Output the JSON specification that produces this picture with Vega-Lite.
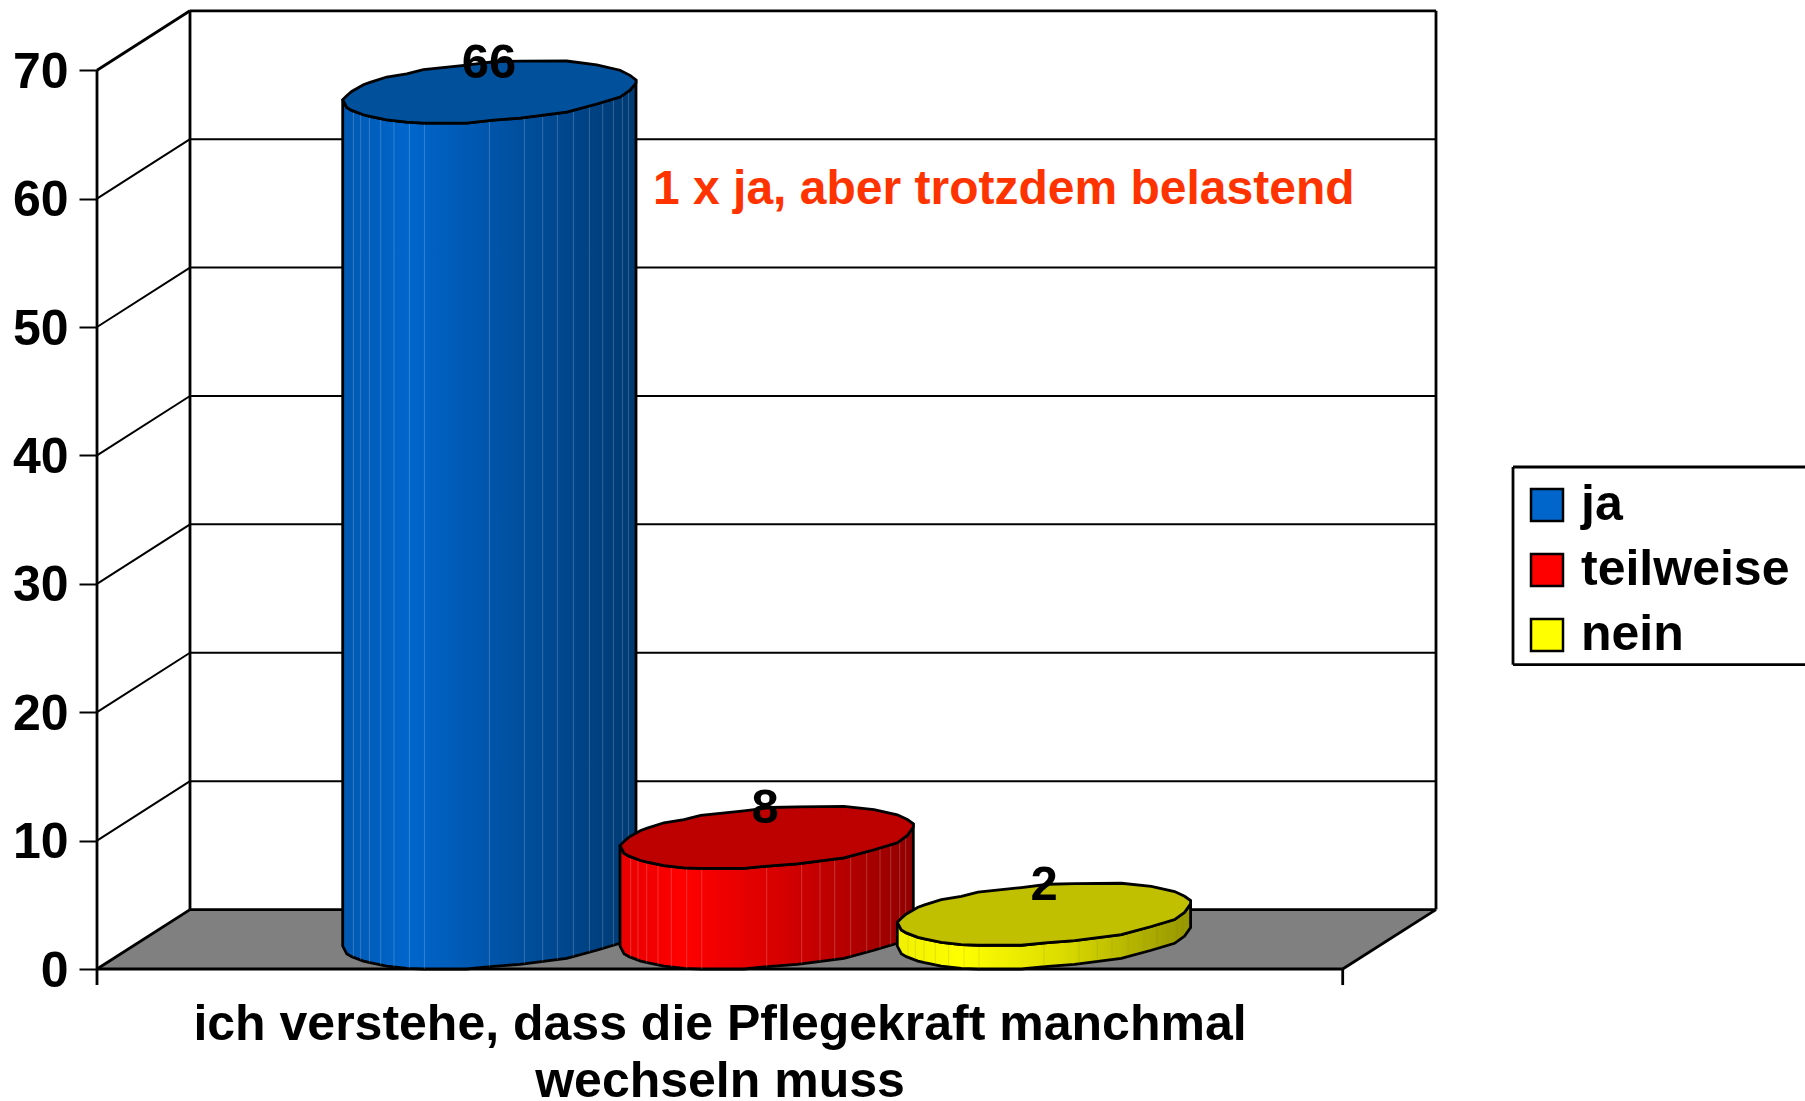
{"$schema":"https://vega.github.io/schema/vega-lite/v6.json","width":1805,"height":1101,"padding":0,"autosize":{"type":"none"},"background":"white","config":{"view":{"stroke":null}},
"datasets":{
"floor":[{"x":97,"y":0,"y2":0},{"x":190,"y":4.63,"y2":0},{"x":1342.7,"y":4.63,"y2":0},{"x":1436,"y":4.63,"y2":4.63}],
"grid":[{"x":190,"x2":1436,"y":14.63,"y2":14.63},{"x":190,"x2":1436,"y":24.63,"y2":24.63},{"x":190,"x2":1436,"y":34.63,"y2":34.63},{"x":190,"x2":1436,"y":44.63,"y2":44.63},{"x":190,"x2":1436,"y":54.63,"y2":54.63},{"x":190,"x2":1436,"y":64.63,"y2":64.63},
{"x":97,"x2":190,"y":10,"y2":14.63},{"x":97,"x2":190,"y":20,"y2":24.63},{"x":97,"x2":190,"y":30,"y2":34.63},{"x":97,"x2":190,"y":40,"y2":44.63},{"x":97,"x2":190,"y":50,"y2":54.63},{"x":97,"x2":190,"y":60,"y2":64.63}],
"frame":[{"x":190,"x2":1436,"y":74.63,"y2":74.63},{"x":97,"x2":190,"y":70,"y2":74.63},{"x":97,"x2":97,"y":-1.25,"y2":70},{"x":190,"x2":190,"y":4.63,"y2":74.63},{"x":1436,"x2":1436,"y":4.63,"y2":74.63},{"x":97,"x2":1342.7,"y":0,"y2":0},{"x":190,"x2":1436,"y":4.63,"y2":4.63},{"x":97,"x2":190,"y":0,"y2":4.63},{"x":1342.7,"x2":1436,"y":0,"y2":4.63},{"x":1342.7,"x2":1342.7,"y":-1.25,"y2":0},
{"x":1513,"x2":1805,"y":39.1,"y2":39.1},{"x":1513,"x2":1805,"y":23.7,"y2":23.7},{"x":1513,"x2":1513,"y":23.7,"y2":39.1}],
"blue":[
{"x":342.7,"hi":67.7,"lo":67.7,"bottom":1.79},{"x":346.7,"hi":68.01,"lo":67.1,"bottom":1.19},{"x":351.7,"hi":68.35,"lo":66.87,"bottom":0.96},{"x":363.4,"hi":68.87,"lo":66.53,"bottom":0.62},{"x":370,"hi":69.05,"lo":66.4,"bottom":0.49},{"x":386.7,"hi":69.47,"lo":66.14,"bottom":0.23},{"x":406.7,"hi":69.72,"lo":65.96,"bottom":0.05},{"x":423.4,"hi":70.04,"lo":65.88,"bottom":0},{"x":466.7,"hi":70.4,"lo":65.88,"bottom":0},{"x":493.4,"hi":70.66,"lo":66.12,"bottom":0.21},{"x":520,"hi":70.71,"lo":66.27,"bottom":0.36},{"x":566.7,"hi":70.72,"lo":66.74,"bottom":0.83},{"x":596.7,"hi":70.42,"lo":67.37,"bottom":1.46},{"x":620,"hi":70.0,"lo":67.91,"bottom":2},{"x":630,"hi":69.6,"lo":68.44,"bottom":2.57},{"x":636,"hi":69.25,"lo":69.0,"bottom":3.22}],
"red":[
{"x":620,"hi":9.62,"lo":9.62,"bottom":1.79},{"x":624,"hi":9.93,"lo":9.02,"bottom":1.19},{"x":629,"hi":10.27,"lo":8.79,"bottom":0.96},{"x":640.7,"hi":10.79,"lo":8.45,"bottom":0.62},{"x":647.3,"hi":10.97,"lo":8.32,"bottom":0.49},{"x":664,"hi":11.39,"lo":8.06,"bottom":0.23},{"x":684,"hi":11.64,"lo":7.88,"bottom":0.05},{"x":700.7,"hi":11.96,"lo":7.83,"bottom":0},{"x":744,"hi":12.32,"lo":7.83,"bottom":0},{"x":770.7,"hi":12.58,"lo":8.04,"bottom":0.21},{"x":797.3,"hi":12.63,"lo":8.19,"bottom":0.36},{"x":844,"hi":12.66,"lo":8.66,"bottom":0.83},{"x":874,"hi":12.42,"lo":9.29,"bottom":1.46},{"x":897.3,"hi":12.01,"lo":9.83,"bottom":2},{"x":907.3,"hi":11.64,"lo":10.4,"bottom":2.57},{"x":913.3,"hi":11.31,"lo":11.05,"bottom":3.22}],
"yellow":[
{"x":897.3,"hi":3.64,"lo":3.64,"bottom":1.79},{"x":901.3,"hi":3.95,"lo":3.04,"bottom":1.19},{"x":906.3,"hi":4.29,"lo":2.81,"bottom":0.96},{"x":918,"hi":4.81,"lo":2.47,"bottom":0.62},{"x":924.6,"hi":4.99,"lo":2.34,"bottom":0.49},{"x":941.3,"hi":5.41,"lo":2.08,"bottom":0.23},{"x":961.3,"hi":5.66,"lo":1.9,"bottom":0.05},{"x":978,"hi":5.98,"lo":1.85,"bottom":0},{"x":1021.3,"hi":6.34,"lo":1.85,"bottom":0},{"x":1048,"hi":6.6,"lo":2.06,"bottom":0.21},{"x":1074.6,"hi":6.65,"lo":2.21,"bottom":0.36},{"x":1121.3,"hi":6.68,"lo":2.68,"bottom":0.83},{"x":1151.3,"hi":6.44,"lo":3.31,"bottom":1.46},{"x":1174.6,"hi":6.03,"lo":3.85,"bottom":2},{"x":1184.6,"hi":5.66,"lo":4.42,"bottom":2.57},{"x":1190.6,"hi":5.33,"lo":5.07,"bottom":3.22}],
"blueFacets":[{"x":353.4,"y":66.84,"y2":0.93},{"x":360.7,"y":66.61,"y2":0.7},{"x":369.4,"y":66.41,"y2":0.5},{"x":380.7,"y":66.23,"y2":0.32},{"x":394,"y":66.08,"y2":0.17},{"x":409.4,"y":65.95,"y2":0.04},{"x":424.4,"y":65.91,"y2":0},{"x":489.4,"y":66.09,"y2":0.18},{"x":524.4,"y":66.31,"y2":0.4},{"x":542.7,"y":66.5,"y2":0.59},{"x":557.4,"y":66.65,"y2":0.74},{"x":573.4,"y":66.88,"y2":0.97},{"x":589.4,"y":67.22,"y2":1.31},{"x":602.7,"y":67.51,"y2":1.6},{"x":613.4,"y":67.76,"y2":1.85},{"x":622.4,"y":68.05,"y2":2.14},{"x":628.4,"y":68.39,"y2":2.48}],
"redFacets":[{"x":630.7,"y":8.89,"y2":0.93},{"x":638,"y":8.66,"y2":0.7},{"x":646.7,"y":8.46,"y2":0.5},{"x":658,"y":8.28,"y2":0.32},{"x":671.3,"y":8.13,"y2":0.17},{"x":686.7,"y":8.0,"y2":0.04},{"x":701.7,"y":7.96,"y2":0},{"x":766.7,"y":8.14,"y2":0.18},{"x":801.7,"y":8.36,"y2":0.4},{"x":820,"y":8.55,"y2":0.59},{"x":834.7,"y":8.7,"y2":0.74},{"x":850.7,"y":8.93,"y2":0.97},{"x":866.7,"y":9.27,"y2":1.31},{"x":880,"y":9.56,"y2":1.6},{"x":890.7,"y":9.81,"y2":1.85},{"x":899.7,"y":10.1,"y2":2.14},{"x":905.7,"y":10.44,"y2":2.48}],
"yellowFacets":[{"x":908,"y":2.96,"y2":0.93},{"x":915.3,"y":2.73,"y2":0.7},{"x":924,"y":2.53,"y2":0.5},{"x":935.3,"y":2.35,"y2":0.32},{"x":948.6,"y":2.2,"y2":0.17},{"x":964,"y":2.07,"y2":0.04},{"x":979,"y":2.03,"y2":0},{"x":1044,"y":2.21,"y2":0.18},{"x":1079,"y":2.43,"y2":0.4},{"x":1097.3,"y":2.62,"y2":0.59},{"x":1112,"y":2.77,"y2":0.74},{"x":1128,"y":3.0,"y2":0.97},{"x":1144,"y":3.34,"y2":1.31},{"x":1157.3,"y":3.63,"y2":1.6},{"x":1168,"y":3.88,"y2":1.85},{"x":1177,"y":4.17,"y2":2.14},{"x":1183,"y":4.51,"y2":2.48}],
"labels":[{"x":489,"y":70.55,"label":"66"},{"x":765,"y":12.52,"label":"8"},{"x":1044,"y":6.53,"label":"2"}],
"xlabel":[{"x":720,"y":-5.53,"label":"ich verstehe, dass die Pflegekraft manchmal"},{"x":720,"y":-9.95,"label":"wechseln muss"}],
"note":[{"x":653,"y":60.65,"label":"1 x ja, aber trotzdem belastend"}],
"answers":[{"x":1530,"y":30,"answer":"ja","count":66},{"x":1530,"y":30,"answer":"teilweise","count":8},{"x":1530,"y":30,"answer":"nein","count":2}]
},
"layer":[
{"data":{"name":"floor"},"mark":{"type":"area","fill":"#808080"},"encoding":{"x":{"field":"x","type":"quantitative","scale":{"domain":[0,1805],"nice":false,"zero":false},"axis":null},"y":{"field":"y","type":"quantitative","scale":{"domain":[-10.28,75.47],"nice":false,"zero":false},"axis":{"values":[0,10,20,30,40,50,60,70],"offset":-97,"domain":false,"grid":false,"title":null,"tickSize":18,"tickWidth":2,"tickColor":"black","labelFont":"Liberation Sans","labelFontSize":50,"labelFontWeight":"bold","labelColor":"black","labelPadding":11,"labelOffset":2}},"y2":{"field":"y2"}}},
{"data":{"name":"grid"},"mark":{"type":"rule","stroke":"black","strokeWidth":2},"encoding":{"x":{"field":"x","type":"quantitative","scale":{"domain":[0,1805],"nice":false,"zero":false},"axis":null},"x2":{"field":"x2"},"y":{"field":"y","type":"quantitative","scale":{"domain":[-10.28,75.47],"nice":false,"zero":false}},"y2":{"field":"y2"}}},
{"data":{"name":"frame"},"mark":{"type":"rule","stroke":"black","strokeWidth":2.8},"encoding":{"x":{"field":"x","type":"quantitative","scale":{"domain":[0,1805],"nice":false,"zero":false},"axis":null},"x2":{"field":"x2"},"y":{"field":"y","type":"quantitative","scale":{"domain":[-10.28,75.47],"nice":false,"zero":false}},"y2":{"field":"y2"}}},
{"data":{"name":"answers"},"mark":{"type":"square","size":0,"opacity":0},"encoding":{"x":{"field":"x","type":"quantitative","scale":{"domain":[0,1805],"nice":false,"zero":false},"axis":null},"y":{"field":"y","type":"quantitative","scale":{"domain":[-10.28,75.47],"nice":false,"zero":false}},"color":{"field":"answer","type":"nominal","scale":{"domain":["ja","teilweise","nein"],"range":["#0066CC","#FF0000","#FFFF00"]},"legend":{"orient":"none","legendX":1522,"legendY":480,"title":null,"symbolType":"square","symbolSize":1024,"symbolOpacity":1,"symbolStrokeColor":"black","symbolStrokeWidth":2.5,"labelFont":"Liberation Sans","labelFontSize":50,"labelFontWeight":"bold","labelColor":"black","labelOffset":9,"labelLimit":0,"rowPadding":15,"padding":0}}}},
{"data":{"name":"blue"},"mark":{"type":"area","stroke":"black","strokeWidth":2.8,"fill":{"gradient":"linear","x1":0,"x2":1,"y1":0,"y2":0,"stops":[{"offset":0,"color":"#0058B0"},{"offset":0.22,"color":"#0066CC"},{"offset":0.55,"color":"#0052A4"},{"offset":0.8,"color":"#004488"},{"offset":1,"color":"#003A72"}]}},"encoding":{"x":{"field":"x","type":"quantitative","scale":{"domain":[0,1805],"nice":false,"zero":false},"axis":null},"y":{"field":"lo","type":"quantitative","scale":{"domain":[-10.28,75.47],"nice":false,"zero":false}},"y2":{"field":"bottom"}}},
{"data":{"name":"blueFacets"},"mark":{"type":"rule","stroke":"white","strokeWidth":1,"opacity":0.2},"encoding":{"x":{"field":"x","type":"quantitative","scale":{"domain":[0,1805],"nice":false,"zero":false},"axis":null},"y":{"field":"y","type":"quantitative","scale":{"domain":[-10.28,75.47],"nice":false,"zero":false}},"y2":{"field":"y2"}}},
{"data":{"name":"blue"},"mark":{"type":"area","stroke":"black","strokeWidth":2.8,"fill":"#00509C"},"encoding":{"x":{"field":"x","type":"quantitative","scale":{"domain":[0,1805],"nice":false,"zero":false},"axis":null},"y":{"field":"hi","type":"quantitative","scale":{"domain":[-10.28,75.47],"nice":false,"zero":false}},"y2":{"field":"lo"}}},
{"data":{"name":"red"},"mark":{"type":"area","stroke":"black","strokeWidth":2.8,"fill":{"gradient":"linear","x1":0,"x2":1,"y1":0,"y2":0,"stops":[{"offset":0,"color":"#E80000"},{"offset":0.22,"color":"#FF0000"},{"offset":0.55,"color":"#D60000"},{"offset":0.8,"color":"#B00000"},{"offset":1,"color":"#900000"}]}},"encoding":{"x":{"field":"x","type":"quantitative","scale":{"domain":[0,1805],"nice":false,"zero":false},"axis":null},"y":{"field":"lo","type":"quantitative","scale":{"domain":[-10.28,75.47],"nice":false,"zero":false}},"y2":{"field":"bottom"}}},
{"data":{"name":"redFacets"},"mark":{"type":"rule","stroke":"white","strokeWidth":1,"opacity":0.2},"encoding":{"x":{"field":"x","type":"quantitative","scale":{"domain":[0,1805],"nice":false,"zero":false},"axis":null},"y":{"field":"y","type":"quantitative","scale":{"domain":[-10.28,75.47],"nice":false,"zero":false}},"y2":{"field":"y2"}}},
{"data":{"name":"red"},"mark":{"type":"area","stroke":"black","strokeWidth":2.8,"fill":"#BD0000"},"encoding":{"x":{"field":"x","type":"quantitative","scale":{"domain":[0,1805],"nice":false,"zero":false},"axis":null},"y":{"field":"hi","type":"quantitative","scale":{"domain":[-10.28,75.47],"nice":false,"zero":false}},"y2":{"field":"lo"}}},
{"data":{"name":"yellow"},"mark":{"type":"area","stroke":"black","strokeWidth":2.8,"fill":{"gradient":"linear","x1":0,"x2":1,"y1":0,"y2":0,"stops":[{"offset":0,"color":"#F0F000"},{"offset":0.22,"color":"#FFFF00"},{"offset":0.55,"color":"#DDDD00"},{"offset":0.8,"color":"#B4B400"},{"offset":1,"color":"#969600"}]}},"encoding":{"x":{"field":"x","type":"quantitative","scale":{"domain":[0,1805],"nice":false,"zero":false},"axis":null},"y":{"field":"lo","type":"quantitative","scale":{"domain":[-10.28,75.47],"nice":false,"zero":false}},"y2":{"field":"bottom"}}},
{"data":{"name":"yellowFacets"},"mark":{"type":"rule","stroke":"#808000","strokeWidth":1,"opacity":0.2},"encoding":{"x":{"field":"x","type":"quantitative","scale":{"domain":[0,1805],"nice":false,"zero":false},"axis":null},"y":{"field":"y","type":"quantitative","scale":{"domain":[-10.28,75.47],"nice":false,"zero":false}},"y2":{"field":"y2"}}},
{"data":{"name":"yellow"},"mark":{"type":"area","stroke":"black","strokeWidth":2.8,"fill":"#C0C000"},"encoding":{"x":{"field":"x","type":"quantitative","scale":{"domain":[0,1805],"nice":false,"zero":false},"axis":null},"y":{"field":"hi","type":"quantitative","scale":{"domain":[-10.28,75.47],"nice":false,"zero":false}},"y2":{"field":"lo"}}},
{"data":{"name":"labels"},"mark":{"type":"text","font":"Liberation Sans","fontWeight":"bold","fontSize":49,"color":"black","align":"center","baseline":"middle"},"encoding":{"x":{"field":"x","type":"quantitative","scale":{"domain":[0,1805],"nice":false,"zero":false},"axis":null},"y":{"field":"y","type":"quantitative","scale":{"domain":[-10.28,75.47],"nice":false,"zero":false}},"text":{"field":"label"}}},
{"data":{"name":"xlabel"},"mark":{"type":"text","font":"Liberation Sans","fontWeight":"bold","fontSize":50,"color":"black","align":"center","baseline":"alphabetic"},"encoding":{"x":{"field":"x","type":"quantitative","scale":{"domain":[0,1805],"nice":false,"zero":false},"axis":null},"y":{"field":"y","type":"quantitative","scale":{"domain":[-10.28,75.47],"nice":false,"zero":false}},"text":{"field":"label"}}},
{"data":{"name":"note"},"mark":{"type":"text","font":"Liberation Sans","fontWeight":"bold","fontSize":48,"color":"#FF3300","align":"left","baseline":"middle"},"encoding":{"x":{"field":"x","type":"quantitative","scale":{"domain":[0,1805],"nice":false,"zero":false},"axis":null},"y":{"field":"y","type":"quantitative","scale":{"domain":[-10.28,75.47],"nice":false,"zero":false}},"text":{"field":"label"}}}
]}
